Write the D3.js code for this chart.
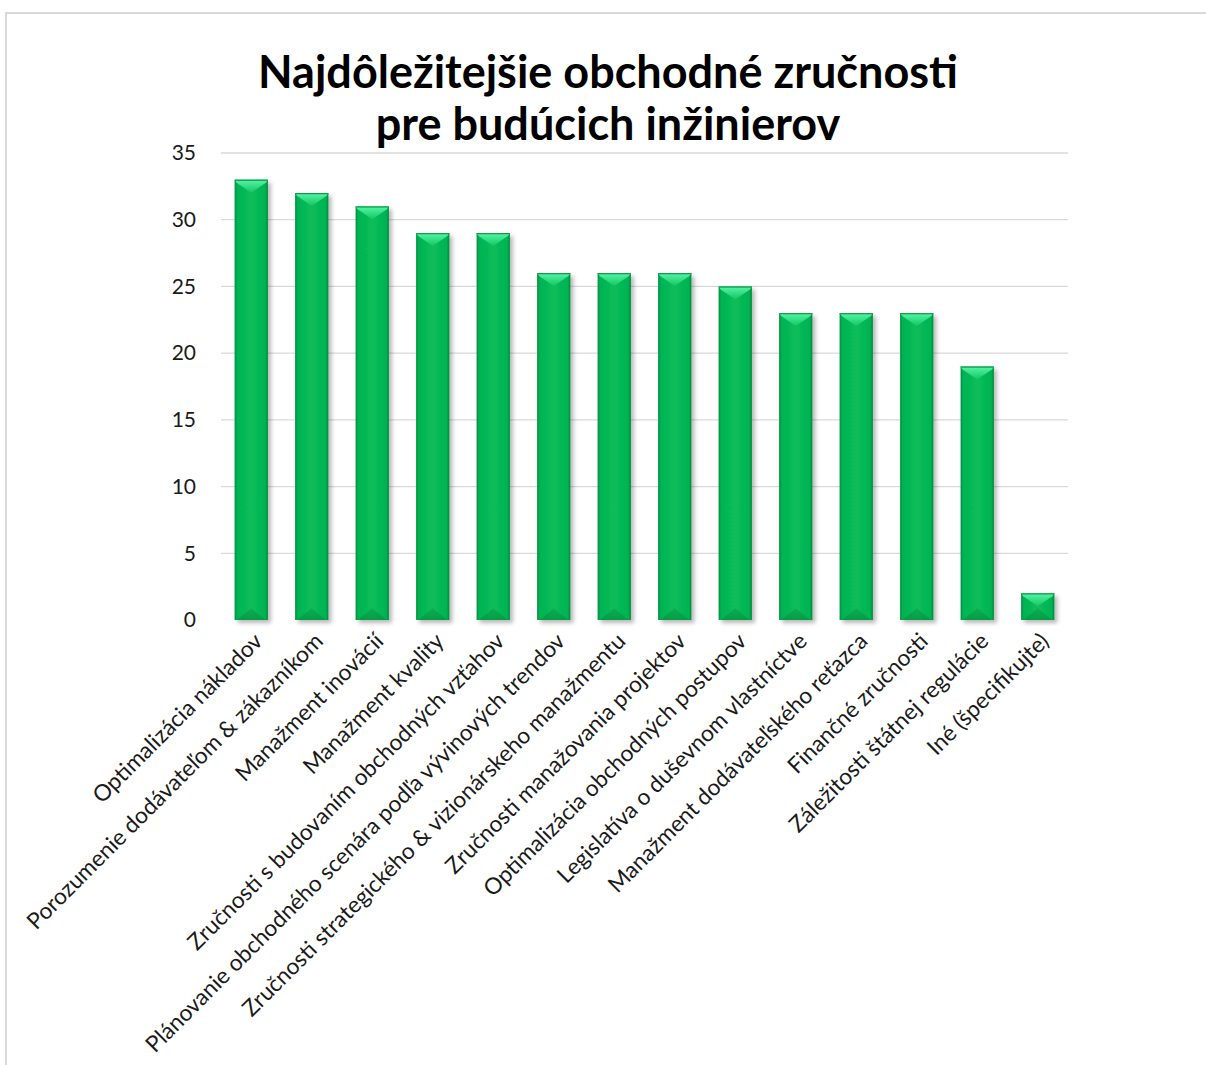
<!DOCTYPE html>
<html>
<head>
<meta charset="utf-8">
<script src="https://cdn.jsdelivr.net/npm/d3@7"></script>
<style>
  html, body { margin: 0; padding: 0; background: #ffffff; }
  svg { display: block; }
  text { font-family: Lato, "Open Sans", "DejaVu Sans", sans-serif; }
</style>
</head>
<body>
<svg id="chart" width="1206" height="1065"></svg>
<script>
// Skills ranked by number of responses
const categories = [
  "Optimalizácia nákladov",
  "Porozumenie dodávateľom & zákazníkom",
  "Manažment inovácií",
  "Manažment kvality",
  "Zručnosti s budovaním obchodných vzťahov",
  "Plánovanie obchodného scenára podľa vývinových trendov",
  "Zručnosti strategického & vizionárskeho manažmentu",
  "Zručnosti manažovania projektov",
  "Optimalizácia obchodných postupov",
  "Legislatíva o duševnom vlastníctve",
  "Manažment dodávateľského reťazca",
  "Finančné zručnosti",
  "Záležitosti štátnej regulácie",
  "Iné (špecifikujte)"
];
const values = [33, 32, 31, 29, 29, 26, 26, 26, 25, 23, 23, 23, 19, 2];
const yTicks = [0, 5, 10, 15, 20, 25, 30, 35];
const titleLines = ["Najdôležitejšie obchodné zručnosti", "pre budúcich inžinierov"];

const svg = d3.select("#chart");
const W = 1206, H = 1065;
const plot = { left: 221, right: 1068, top: 153, bottom: 620 };

// Definitions: gradients for the bevelled bars and soft shadows
const defs = svg.append("defs");
const shadow = defs.append("filter").attr("id", "barShadow")
  .attr("x", "-30%").attr("y", "-10%").attr("width", "180%").attr("height", "130%");
shadow.append("feDropShadow").attr("dx", 3).attr("dy", 3).attr("stdDeviation", 2.2)
  .attr("flood-color", "#000").attr("flood-opacity", 0.28);

const axShadow = defs.append("filter").attr("id", "axisShadow")
  .attr("x", "-5%").attr("y", "-200%").attr("width", "110%").attr("height", "500%");
axShadow.append("feDropShadow").attr("dx", 2).attr("dy", 3).attr("stdDeviation", 1.5)
  .attr("flood-color", "#000").attr("flood-opacity", 0.25);

const bodyGrad = defs.append("linearGradient").attr("id", "bodyGrad")
  .attr("x1", "0").attr("x2", "1").attr("y1", "0").attr("y2", "0");
[["0%", "#078f40"], ["8%", "#04b352"], ["50%", "#08bd5a"], ["92%", "#04b352"], ["100%", "#06873c"]]
  .forEach(([o, c]) => bodyGrad.append("stop").attr("offset", o).attr("stop-color", c));

const topGrad = defs.append("linearGradient").attr("id", "topGrad")
  .attr("x1", "0").attr("x2", "0").attr("y1", "0").attr("y2", "1");
[["0%", "#5cf3a6"], ["35%", "#3ee68e"], ["100%", "#14c462"]]
  .forEach(([o, c]) => topGrad.append("stop").attr("offset", o).attr("stop-color", c));

const botGrad = defs.append("linearGradient").attr("id", "botGrad")
  .attr("x1", "0").attr("x2", "0").attr("y1", "0").attr("y2", "1");
[["0%", "#0aa94e"], ["100%", "#059543"]]
  .forEach(([o, c]) => botGrad.append("stop").attr("offset", o).attr("stop-color", c));

// Chart frame
svg.append("path")
  .attr("d", `M6,${H} V13 H${W}`)
  .attr("fill", "none").attr("stroke", "#d9d9d9").attr("stroke-width", 2);

// Scales
const x = d3.scaleBand().domain(categories)
  .range([plot.left, plot.right]).paddingInner(0.45).paddingOuter(0.225);
const y = d3.scaleLinear().domain([0, 35]).range([plot.bottom, plot.top]);

// Horizontal gridlines
svg.append("g").selectAll("line")
  .data(yTicks.filter(t => t > 0))
  .join("line")
  .attr("x1", plot.left).attr("x2", plot.right)
  .attr("y1", d => y(d)).attr("y2", d => y(d))
  .attr("stroke", "#d9d9d9").attr("stroke-width", 1.3);

// Y axis labels
const yAxis = svg.append("g")
  .attr("transform", `translate(${plot.left - 25},0)`)
  .call(d3.axisLeft(y).tickValues(yTicks).tickSize(0).tickPadding(0));
yAxis.select(".domain").remove();
yAxis.selectAll("text")
  .attr("font-family", "Lato, 'Open Sans', sans-serif")
  .attr("font-size", 21).attr("fill", "#1a1a1a");

// Baseline
svg.append("line")
  .attr("x1", plot.left).attr("x2", plot.right)
  .attr("y1", y(0)).attr("y2", y(0))
  .attr("stroke", "#d4d4d4").attr("stroke-width", 3)
  .attr("filter", "url(#axisShadow)");

// Bars with a bevelled top and bottom
const bw = x.bandwidth();
const bars = svg.append("g").selectAll("g.bar")
  .data(categories.map((c, i) => ({ c, v: values[i] })))
  .join("g").attr("class", "bar");

bars.append("rect")
  .attr("x", d => x(d.c)).attr("y", d => y(d.v))
  .attr("width", bw).attr("height", d => y(0) - y(d.v))
  .attr("fill", "url(#bodyGrad)")
  .attr("filter", "url(#barShadow)");

const bevel = d => Math.min(13, (y(0) - y(d.v)) / 2);
bars.append("polygon")
  .attr("points", d => {
    const x0 = x(d.c), x1 = x0 + bw, t = y(d.v), b = bevel(d);
    return `${x0},${t} ${x1},${t} ${x1 - 2},${t + 3} ${x0 + bw / 2},${t + b} ${x0 + 2},${t + 3}`;
  })
  .attr("fill", "url(#topGrad)");

bars.append("polygon")
  .attr("points", d => {
    const x0 = x(d.c), x1 = x0 + bw, bt = y(0), b = bevel(d);
    return `${x0 + 2},${bt} ${x1 - 2},${bt} ${x0 + bw / 2},${bt - b * 0.9}`;
  })
  .attr("fill", "url(#botGrad)").attr("opacity", 0.8);

bars.append("rect")
  .attr("x", d => x(d.c)).attr("y", d => y(d.v))
  .attr("width", bw).attr("height", 1.2)
  .attr("fill", "#0a9a48");

// Rotated category labels; size chosen so the longest label spans ~585px
const labels = svg.append("g").selectAll("text")
  .data(categories)
  .join("text")
  .attr("transform", d => `translate(${x(d) + bw / 2 + 7},${y(0) + 17}) rotate(-45)`)
  .attr("text-anchor", "end")
  .attr("dy", "0.35em")
  .attr("font-size", 18)
  .attr("fill", "#1a1a1a")
  .text(d => d);
const longest = d3.max(labels.nodes(), n => n.getComputedTextLength());
labels.attr("font-size", 18 * 582 / longest);

// Title
const title = svg.append("text")
  .attr("text-anchor", "middle")
  .attr("font-weight", 700)
  .attr("font-size", 45)
  .attr("fill", "#000");
title.selectAll("tspan")
  .data(titleLines)
  .join("tspan")
  .attr("x", 608)
  .attr("y", (d, i) => 88 + i * 52)
  .text(d => d);
</script>
</body>
</html>
